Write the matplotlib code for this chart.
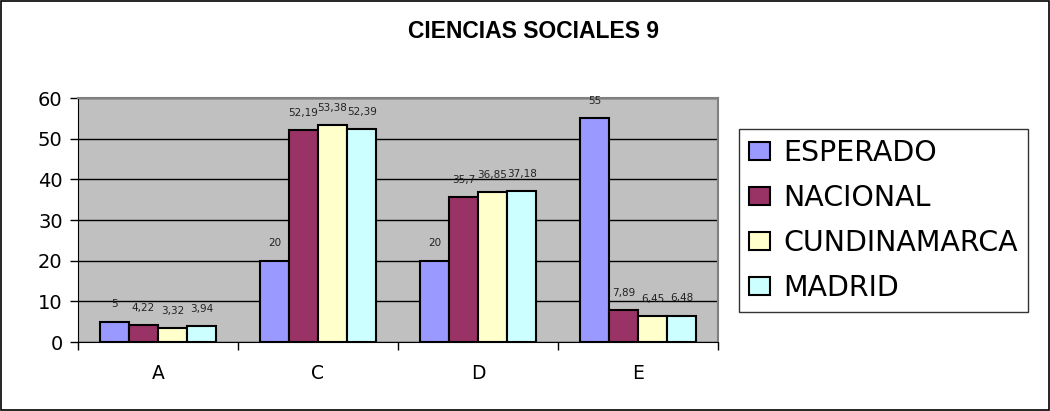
import matplotlib
matplotlib.use("Agg")
import matplotlib.pyplot as plt
import numpy as np

plt.rcParams['font.family'] = ['DejaVu Sans']

categories = ["A", "C", "D", "E"]
series_names = ["ESPERADO", "NACIONAL", "CUNDINAMARCA", "MADRID"]
esperado = [5, 20, 20, 55]
nacional = [4.22, 52.19, 35.7, 7.89]
cundinamarca = [3.32, 53.38, 36.85, 6.45]
madrid = [3.94, 52.39, 37.18, 6.48]
colors = ["#9999FF", "#993366", "#FFFFCC", "#CCFFFF"]
yticks = [0, 10, 20, 30, 40, 50, 60]

series = [esperado, nacional, cundinamarca, madrid]


def fmt(v):
    s = ("%.2f" % v).rstrip("0").rstrip(".")
    return s.replace(".", ",")


fig = plt.figure(figsize=(10.5, 4.11), dpi=100)
ax = fig.add_axes([78/1050, 1-342/411, 640/1050, 244/411])
ax.set_facecolor("#C0C0C0")

n = len(series)
w = 1/5.5
x = np.arange(len(categories))
handles = []
for i, (vals, col) in enumerate(zip(series, colors)):
    pos = x + (i - (n-1)/2) * w
    b = ax.bar(pos, vals, width=w, color=col, edgecolor="black", linewidth=1.5, zorder=3)
    handles.append(b)
    for p, v in zip(pos, vals):
        ax.text(p, v + 3.0, fmt(v), ha="center", va="bottom", fontsize=7.5,
                color="#222222", zorder=4)

ax.set_xlim(-0.5, len(categories) - 0.5)
ax.set_ylim(0, 60)
ax.set_yticks(yticks)
ax.set_yticklabels([str(t) for t in yticks], fontsize=14)
ax.yaxis.grid(True, color="black", linewidth=1, zorder=1)
ax.set_axisbelow(True)
ax.set_xticks(x)
ax.set_xticklabels(categories, fontsize=13.5)
ax.tick_params(axis="x", length=0, pad=16)
ax.tick_params(axis="y", length=6, width=1, direction="out", pad=5)
ax.set_xticks(np.arange(len(categories) + 1) - 0.5, minor=True)
ax.tick_params(axis="x", which="minor", length=6, width=1, direction="out")
for s in ["top", "right"]:
    ax.spines[s].set_color("#808080")
    ax.spines[s].set_linewidth(1.5)
ax.spines["left"].set_color("black")
ax.spines["bottom"].set_color("black")

fig.text(533/1050, 1-32/411, "CIENCIAS SOCIALES 9", ha="center", va="center",
         fontsize=16.5, fontweight="bold", family="Liberation Sans")

leg = fig.legend(handles, series_names, loc="upper left",
                 bbox_to_anchor=(739/1050, 1-129/411),
                 prop={"family": "DejaVu Sans", "size": 20.5},
                 frameon=True, fancybox=False, edgecolor="black",
                 handlelength=0.74, handleheight=0.6, handletextpad=0.46,
                 labelspacing=0.6, borderpad=0.35, borderaxespad=0)
leg.get_frame().set_linewidth(1)

fig.patches.append(plt.Rectangle((0.001, 0.002), 0.998, 0.996, transform=fig.transFigure,
                                 fill=False, edgecolor="black", linewidth=1.2))

fig.savefig("out.png", dpi=100)
